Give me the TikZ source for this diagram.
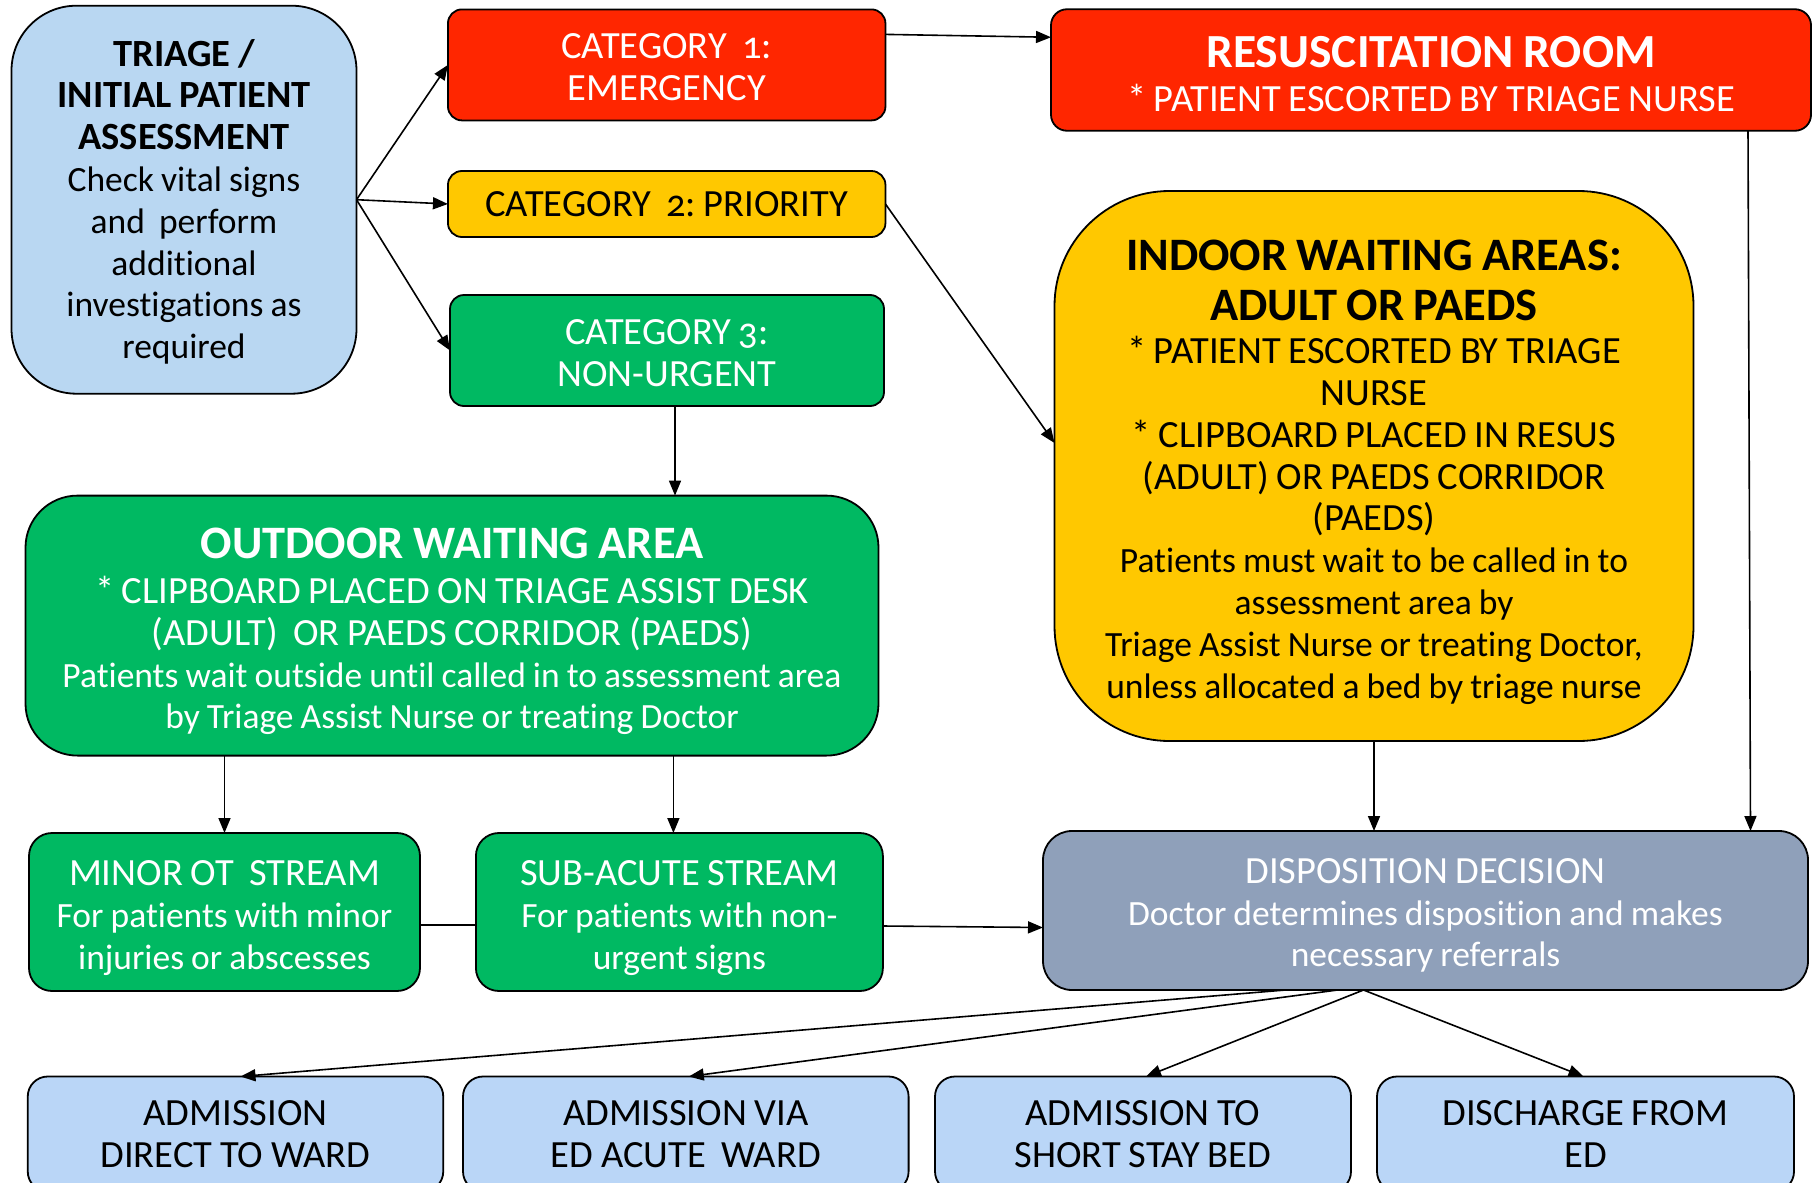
\documentclass[tikz,border=0pt]{standalone}
\usepackage{fontspec}
\setmainfont{Carlito}[Numbers=OldStyle, Ligatures=NoCommon]
\usetikzlibrary{arrows.meta}
\definecolor{triblue}{HTML}{B9D7F2}
\definecolor{catred}{HTML}{FF2600}
\definecolor{catyel}{HTML}{FFC800}
\definecolor{catgrn}{HTML}{00B962}
\definecolor{dispocol}{HTML}{8FA0BA}
\definecolor{botblue}{HTML}{BAD6F7}
\newcommand\tightsp{\spaceskip=0.2em\relax\xspaceskip=0.2em\relax}
\newcommand\bodyfont{\fontsize{35.5}{41.8}\selectfont\tightsp}
\newcommand\cp{\fontsize{38.5}{41.8}\selectfont\tightsp}
\newcommand\titlefont{\fontsize{46.5}{50}\selectfont\bfseries\tightsp}
\newcommand\shiftend[1]{\par\vspace{-#1}}
\begin{document}
\begin{tikzpicture}[x=1pt,y=-1pt,
  every node/.style={inner sep=0pt, outer sep=0pt},
  box/.style={draw=black, line width=1.8pt, align=center, font=\bodyfont, execute at begin node={\tightsp}, execute at end node={\shiftend{#1}}},
  box/.default=0pt,
  arr/.style={-{Triangle[length=15pt,width=12pt]}, line width=1.6pt},
  ln/.style={line width=1.6pt}]
\path[use as bounding box] (0,0) rectangle (1815,1183);
\clip (0,0) rectangle (1815,1183);

\node[box=4pt, fill=triblue, rounded corners=65pt, minimum width=345pt, minimum height=388pt, text width=335pt] (triage) at (184,199.7)
 {{\cp\bfseries TRIAGE /\\INITIAL PATIENT\\ASSESSMENT\\}Check vital signs\\and\ \ perform\\additional\\investigations as\\required};

\node[box=5pt, fill=catred, text=white, font=\cp, rounded corners=14pt, minimum width=437.5pt, minimum height=111pt, text width=425pt] (cat1) at (666.7,64.9)
 {CATEGORY\ \ 1:\\EMERGENCY};
\node[box=6pt, fill=catyel, font=\cp, rounded corners=14pt, minimum width=437.5pt, minimum height=66pt, text width=425pt] (cat2) at (666.7,204)
 {CATEGORY\ \ 2: PRIORITY};
\node[box=5pt, fill=catgrn, text=white, font=\cp, rounded corners=14pt, minimum width=434pt, minimum height=111pt, text width=425pt] (cat3) at (667,350.5)
 {CATEGORY 3:\\NON-URGENT};

\node[box=8pt, fill=catred, text=white, font=\cp, rounded corners=16pt, minimum width=760pt, minimum height=121.5pt, text width=745pt] (resus) at (1431,70)
 {{\fontsize{47.5}{45}\selectfont\bfseries\tightsp RESUSCITATION ROOM\par}\vspace{3pt}* PATIENT ESCORTED BY TRIAGE NURSE};

\node[box=12pt, fill=catyel, rounded corners=115pt, minimum width=639pt, minimum height=550pt, text width=625pt] (indoor) at (1374,466)
 {{\titlefont INDOOR WAITING AREAS:\\ADULT OR PAEDS\par}\vspace{1.7pt}{\cp * PATIENT ESCORTED BY TRIAGE\\NURSE\\{}* CLIPBOARD PLACED IN RESUS\\(ADULT) OR PAEDS CORRIDOR\\(PAEDS)\\[0pt]}Patients must wait to be called in to\\assessment area by\\Triage Assist Nurse or treating Doctor,\\unless allocated a bed by triage nurse};

\node[box=12pt, fill=catgrn, text=white, rounded corners=52pt, minimum width=853pt, minimum height=260pt, text width=840pt] (outdoor) at (452,625.6)
 {{\titlefont OUTDOOR WAITING AREA\par}\vspace{3pt}{\cp * CLIPBOARD PLACED ON TRIAGE ASSIST DESK\\(ADULT)\ \ OR PAEDS CORRIDOR (PAEDS)\\}Patients wait outside until called in to assessment area\\by Triage Assist Nurse or treating Doctor};

\node[box=12pt, fill=catgrn, text=white, rounded corners=23pt, minimum width=391pt, minimum height=158pt, text width=380pt] (minor) at (224.5,912)
 {{\cp MINOR OT\ \ STREAM\\}For patients with minor\\injuries or abscesses};
\node[box=12pt, fill=catgrn, text=white, rounded corners=23pt, minimum width=407pt, minimum height=158pt, text width=395pt] (subacute) at (679.4,912)
 {{\cp SUB-ACUTE STREAM\\}For patients with non-\\urgent signs};

\node[box=10pt, fill=dispocol, text=white, rounded corners=29pt, minimum width=765pt, minimum height=159pt, text width=750pt] (dispo) at (1425.5,910.5)
 {{\cp DISPOSITION DECISION\\}Doctor determines disposition and makes\\necessary referrals};

\node[box, fill=botblue, font=\cp, rounded corners=20pt, minimum width=415.5pt, minimum height=115pt, text width=405pt] (b1) at (235.5,1134)
 {ADMISSION\\DIRECT TO WARD};
\node[box, fill=botblue, font=\cp, rounded corners=20pt, minimum width=445.6pt, minimum height=115pt, text width=435pt] (b2) at (685.8,1134)
 {ADMISSION VIA\\ED ACUTE\ \ WARD};
\node[box, fill=botblue, font=\cp, rounded corners=20pt, minimum width=416pt, minimum height=115pt, text width=405pt] (b3) at (1143,1134)
 {ADMISSION TO\\SHORT STAY BED};
\node[box, fill=botblue, font=\cp, rounded corners=20pt, minimum width=417pt, minimum height=115pt, text width=405pt] (b4) at (1585.5,1134)
 {DISCHARGE FROM\\ED};

% connectors
\draw[arr] (triage.east) -- (cat1.west);
\draw[arr] (triage.east) -- (cat2.west);
\draw[arr] (triage.east) -- (cat3.west);
\draw[arr] ([yshift=-25pt]cat1.north east) -- ([yshift=-28pt]resus.north west);
\draw[arr] (cat2.east) -- ([yshift=23pt]indoor.west);
\draw[arr] ([xshift=8pt]cat3.south) -- ([xshift=8pt]cat3.south |- outdoor.north);
\draw[arr] (minor.north |- outdoor.south) -- (minor.north);
\draw[arr] ([xshift=-6pt]subacute.north |- outdoor.south) -- ([xshift=-6pt]subacute.north);
\draw[ln] ([yshift=-13pt]minor.east) -- ([yshift=-13pt]minor.east -| subacute.west);
\draw[arr] ([yshift=-14pt]subacute.east) -- ([yshift=-17pt]dispo.west);
\draw[arr] (indoor.south) -- (indoor.south |- dispo.north);
\draw[arr] ([xshift=317pt]resus.south) -- ([xshift=325pt]dispo.north);
\draw[arr] ([xshift=-140pt]dispo.south) -- ([xshift=5pt]b1.north);
\draw[arr] ([xshift=-88pt]dispo.south) -- ([xshift=3pt]b2.north);
\draw[arr] ([xshift=-62pt]dispo.south) -- ([xshift=3pt]b3.north);
\draw[arr] ([xshift=-62pt]dispo.south) -- ([xshift=-2pt]b4.north);
\end{tikzpicture}
\end{document}
